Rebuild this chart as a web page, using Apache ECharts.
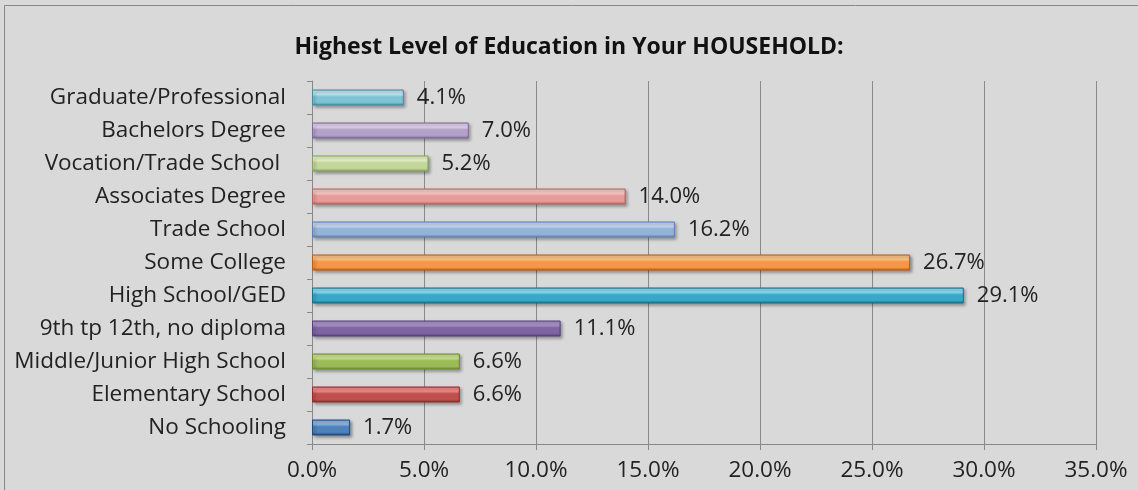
<!DOCTYPE html>
<html><head><meta charset="utf-8">
<script src="https://cdn.jsdelivr.net/npm/echarts@6/dist/echarts.min.js"></script>
<style>html,body{margin:0;padding:0;background:#d9d9d9}#c{width:1138px;height:490px}</style>
</head><body><div id="c"></div>
<script>
const categories = ["No Schooling","Elementary School","Middle/Junior High School","9th tp 12th, no diploma","High School/GED","Some College","Trade School","Associates Degree","Vocation/Trade School ","Bachelors Degree","Graduate/Professional"];
const values = [1.7, 6.6, 6.6, 11.1, 29.1, 26.7, 16.2, 14.0, 5.2, 7.0, 4.1];
const xTicks = [0,5,10,15,20,25,30,35];
const palette = [
  ["#8fb3e0","#4f81bd","#1f497d"],
  ["#ec8a88","#c0504d","#8c2f2d"],
  ["#c8e08e","#9bbb59","#6e8a36"],
  ["#a893c8","#8064a2","#54407a"],
  ["#8ad8ec","#38a8c8","#1d6f86"],
  ["#fbc185","#f79646","#b85f14"],
  ["#c3d5ee","#95b3d7","#5f82b0"],
  ["#f7c8c6","#e89c9a","#b26664"],
  ["#e6f2c4","#c3d69b","#8aa25c"],
  ["#dcd0ec","#b3a2c7","#7e6a99"],
  ["#bfe4ef","#7fc3d6","#468da3"]
];
const chart = echarts.init(document.getElementById('c'));
const font = '"Open Sans", Lato, sans-serif';
chart.setOption({
  backgroundColor: '#d9d9d9',
  animation: false,
  title: {text: 'Highest Level of Education in Your HOUSEHOLD:', left: 'center', top: 31,
    textStyle: {fontFamily: font, fontSize: 23, fontWeight: 'bold', color: '#111'}},
  grid: {left: 312, right: 42, top: 81, bottom: 46},
  xAxis: {type: 'value', min: 0, max: 35, interval: 5,
    axisLine: {show: true, lineStyle: {color: '#888', width: 1}},
    axisTick: {show: true, length: 6, lineStyle: {color: '#888'}},
    splitLine: {show: true, lineStyle: {color: '#8a8a8a', width: 1}},
    axisLabel: {margin: 15, fontFamily: font, fontSize: 22.5, color: '#222',
      formatter: v => xTicks.includes(v) ? v.toFixed(1) + '%' : ''}},
  yAxis: {type: 'category', data: categories,
    axisLine: {show: true, lineStyle: {color: '#888'}},
    axisTick: {show: true, length: 5, lineStyle: {color: '#888'}},
    axisLabel: {margin: 26, fontFamily: font, fontSize: 22.5, color: '#222'}},
  series: [{type: 'bar', barWidth: 16,
    data: values.map((v, i) => ({value: v, itemStyle: {
      color: {type: 'linear', x: 0, y: 0, x2: 0, y2: 1, colorStops: [
        {offset: 0, color: palette[i][1]}, {offset: 0.12, color: palette[i][0]},
        {offset: 0.3, color: palette[i][0]},
        {offset: 0.45, color: palette[i][1]}, {offset: 0.8, color: palette[i][1]},
        {offset: 1, color: palette[i][2]}]},
      borderColor: palette[i][2], borderWidth: 1,
      shadowColor: 'rgba(0,0,0,0.35)', shadowBlur: 3, shadowOffsetX: 2, shadowOffsetY: 2}})),
    label: {show: true, position: 'right', distance: 13, fontFamily: font, fontSize: 22, color: '#222',
      formatter: p => p.value.toFixed(1) + '%'}}],
  graphic: [{type: 'rect', shape: {x: 4.5, y: 5.5, width: 1200, height: 600},
    style: {fill: 'none', stroke: '#888', lineWidth: 1}, silent: true, z: 100}]
});
</script></body></html>
